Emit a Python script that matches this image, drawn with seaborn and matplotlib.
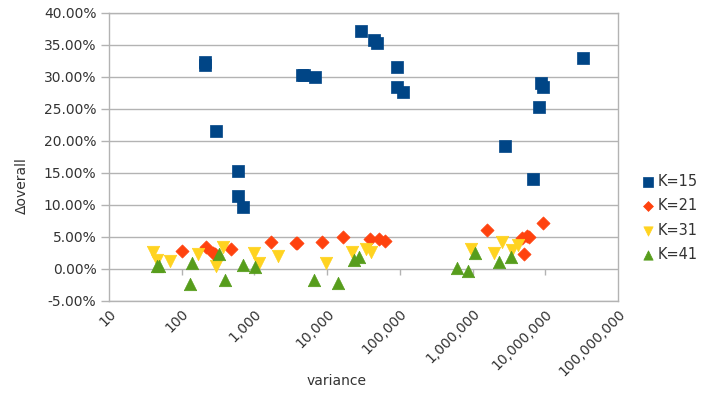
import matplotlib
matplotlib.use("Agg")
import matplotlib.pyplot as plt
import matplotlib.ticker as mticker
import seaborn as sns
import numpy as np

# ---- data ----
k15_var = [210, 210, 296, 593, 593, 696, 4500, 4800, 6760, 29500, 44200, 48500,
           91000, 91000, 110000, 2.8e6, 6.8e6, 8.2e6, 8.7e6, 9.3e6, 3.3e7]
k15_delta = [32.3, 31.8, 21.6, 15.3, 11.4, 9.7, 30.3, 30.3, 30.0, 37.2, 35.8, 35.3,
             31.6, 28.4, 27.7, 19.2, 14.1, 25.3, 29.0, 28.4, 33.0]

k21_var = [100, 215, 270, 290, 480, 1700, 3700, 3900, 8500, 16600, 39000, 51700, 63000,
           1.6e6, 4.8e6, 5.1e6, 5.6e6, 6.0e6, 9.3e6]
k21_delta = [2.8, 3.4, 2.5, 2.4, 3.1, 4.2, 4.1, 4.0, 4.2, 5.0, 4.7, 4.7, 4.3,
             6.1, 4.8, 2.3, 5.2, 5.0, 7.2]

k31_var = [40, 46, 69, 167, 294, 370, 1000, 1150, 2100, 9600, 21800, 34500, 40000,
           960000, 2.0e6, 2.5e6, 3.5e6, 4.2e6]
k31_delta = [2.7, 1.4, 1.3, 2.3, 0.5, 3.4, 2.5, 0.9, 2.0, 0.9, 2.7, 3.1, 2.6,
             3.1, 2.5, 4.2, 3.0, 3.7]

k41_var = [46, 49, 130, 138, 330, 400, 690, 1020, 6500, 14000, 23500, 27300,
           620000, 870000, 1.07e6, 2.3e6, 3.4e6]
k41_delta = [0.4, 0.4, -2.4, 0.9, 2.4, -1.7, 0.6, 0.3, -1.7, -2.2, 1.4, 1.8,
             0.2, -0.3, 2.5, 1.1, 1.9]

series_labels = ["K=15", "K=21", "K=31", "K=41"]
x_ticks = [10, 100, 1000, 10000, 100000, 1000000, 10000000, 100000000]
y_ticks = [-5, 0, 5, 10, 15, 20, 25, 30, 35, 40]

# ---- style ----
sns.set_theme(style="white")
plt.rcParams['font.family'] = ['DejaVu Sans']
text_color = "#333333"
grid_color = "#b3b3b3"

fig = plt.figure(figsize=(7.03, 3.94), dpi=100)
ax = fig.add_axes([109 / 703, 1 - 301 / 394, (618 - 109) / 703, (301 - 13) / 394])

series = [
    (k15_var, k15_delta, "s", "#004586", 80),
    (k21_var, k21_delta, "D", "#ff420e", 45),
    (k31_var, k31_delta, "v", "#ffd320", 80),
    (k41_var, k41_delta, "^", "#579d1c", 80),
]
for (xv, yv, mk, col, sz), lab in zip(series, series_labels):
    sns.scatterplot(x=np.array(xv), y=np.array(yv) / 100.0, marker=mk, color=col,
                    s=sz, edgecolor=col, linewidth=0.5, label=lab, ax=ax, zorder=3)

ax.set_xscale("log")
ax.set_xlim(x_ticks[0], x_ticks[-1])
ax.set_ylim(y_ticks[0] / 100.0, y_ticks[-1] / 100.0)

ax.set_yticks([v / 100.0 for v in y_ticks])
ax.yaxis.set_major_formatter(mticker.FuncFormatter(lambda v, p: f"{v * 100:.2f}%"))
ax.set_xticks(x_ticks)
ax.xaxis.set_minor_locator(mticker.NullLocator())
ax.set_xticklabels([f"{t:,}" for t in x_ticks], rotation=45, ha="right", va="top",
                   rotation_mode="anchor")

ax.grid(axis="y", color=grid_color, linewidth=1)
ax.grid(axis="x", visible=False)
for sp in ax.spines.values():
    sp.set_visible(True)
    sp.set_color(grid_color)
    sp.set_linewidth(1)

ax.tick_params(axis="y", which="major", length=6, color=grid_color, width=1,
               labelsize=10, labelcolor=text_color, pad=3, direction="out", left=True)
ax.tick_params(axis="x", which="major", length=0, labelsize=10, labelcolor=text_color, pad=4)

# x-axis tick marks sit on the 0 line
ax.vlines(x_ticks[1:-1], -0.009, 0, color=grid_color, linewidth=1, zorder=2)

ax.set_xlabel("")
ax.set_ylabel("")
fig.text(337 / 703, 1 - 381 / 394, "variance", ha="center", va="center",
         fontsize=10, color=text_color)
fig.text(22 / 703, 1 - 186 / 394, "Δoverall", ha="center", va="center",
         rotation=90, fontsize=10, color=text_color)

leg = ax.legend(loc="center left", bbox_to_anchor=(642 / 703, 1 - 218 / 394),
                bbox_transform=fig.transFigure, frameon=False, fontsize=10.5,
                handletextpad=0.3, labelspacing=0.65, handlelength=0.8,
                markerscale=0.75, borderaxespad=0, borderpad=0)
for t in leg.get_texts():
    t.set_color(text_color)

fig.savefig("out.png", dpi=100)
